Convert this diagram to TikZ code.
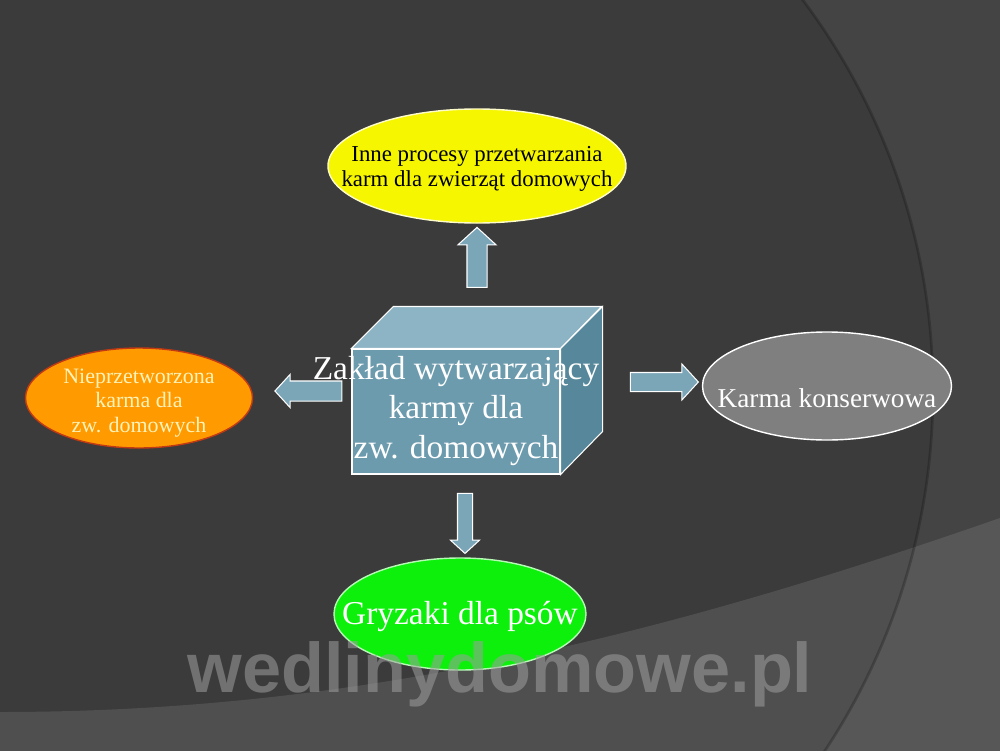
\documentclass[tikz,border=0pt]{standalone}
\usepackage{fontspec}
\setmainfont{Liberation Serif}
\newfontfamily\sitefont{Liberation Sans}
\usetikzlibrary{shapes.geometric}
\usetikzlibrary{shapes.arrows}

\definecolor{slidebg}{HTML}{3B3B3B}
\definecolor{slideband}{HTML}{4F4F4F}
\definecolor{procyellow}{HTML}{F6F600}
\definecolor{raworange}{HTML}{FF9A00}
\definecolor{rawedge}{HTML}{C23A14}
\definecolor{rawtext}{HTML}{FFF3B8}
\definecolor{cangray}{HTML}{7F7F7F}
\definecolor{chewgreen}{HTML}{0CF00C}
\definecolor{boxfront}{HTML}{6C9BAE}
\definecolor{boxtop}{HTML}{8DB4C4}
\definecolor{boxside}{HTML}{56879A}
\definecolor{flowblue}{HTML}{7BA6B8}

\begin{document}
\begin{tikzpicture}[x=0.2mm, y=-0.2mm,
    blob/.style={ellipse, inner sep=0pt, line width=0.8pt},
    blobtext/.style={align=center, inner sep=0pt},
    other/.style={blob, draw=white!80!yellow, fill=procyellow,
      minimum width=59.6mm, minimum height=22.8mm},
    raw/.style={blob, draw=rawedge, fill=raworange,
      minimum width=45.4mm, minimum height=20mm},
    canned/.style={blob, draw=white, fill=cangray,
      minimum width=49.8mm, minimum height=21.6mm},
    chew/.style={blob, draw=white!70!chewgreen, fill=chewgreen,
      minimum width=50.4mm, minimum height=22.4mm},
    face/.style={draw=white, line width=0.6pt},
    flow/.style={single arrow, draw=white, fill=flowblue, line width=0.6pt,
      single arrow tip angle=95}
  ]
  \useasboundingbox (0,0) rectangle (1000,750);
  \clip (0,0) rectangle (1000,750);

  % slide background
  \fill[slidebg] (-10,-10) rectangle (1010,760);
  \fill[slideband] (-10,712) -- (0,712) .. controls (350,712) and (650,640)
    .. (1000,518) -- (1010,515) -- (1010,760) -- (-10,760) -- cycle;
  \fill[white, opacity=0.05, even odd rule] (-10,-10) rectangle (1010,760)
    (281,391) circle (130.4mm);
  \draw[black, opacity=0.22, line width=1.5pt] (281,391) circle (130.4mm);

  % the plant
  \node[face, fill=boxfront, minimum width=41.6mm, minimum height=25mm,
    inner sep=0pt] (front) at (456,411.5) {};
  \fill[boxtop, face] (front.north west) -- ++(42,-42) -- ++(208,0)
    -- (front.north east) -- cycle;
  \fill[boxside, face] (front.north east) -- ++(42,-42) -- ++(0,125)
    -- (front.south east) -- cycle;
  \node[blobtext, text=white, font=\fontsize{19}{22.7}\selectfont]
    (plant) at (456,411) {Zakład wytwarzający\\karmy dla\\zw. domowych};

  % products
  \node[other] (process) at (477,166) {};
  \node[blobtext, text=black, font=\fontsize{13}{14.3}\selectfont]
    at ([yshift=-0.6mm]process.center)
    {Inne procesy przetwarzania\\karm dla zwierząt domowych};
  \node[raw] (unproc) at (139,398) {};
  \node[blobtext, text=rawtext, font=\fontsize{12.5}{13.9}\selectfont]
    at ([yshift=-1mm]unproc.center)
    {Nieprzetworzona\\karma dla\\zw. domowych};
  \node[canned] (tin) at (827,386) {};
  \node[blobtext, text=white, font=\fontsize{15.5}{17}\selectfont]
    at ([yshift=-2.4mm]tin.center) {Karma konserwowa};
  \node[chew] (chews) at (460,614) {};
  \node[blobtext, text=white, font=\fontsize{19}{22}\selectfont]
    at ([yshift=-0.4mm]chews.center) {Gryzaki dla psów};

  % flows out of the plant
  \node[flow, shape border rotate=90, minimum height=12mm, inner sep=1.9mm,
    single arrow head extend=1.8mm] (toprocess) at (477,262) {};
  \node[flow, shape border rotate=180, minimum height=13.4mm, inner sep=1.9mm,
    single arrow head extend=1.3mm] (tounproc) at (313,391) {};
  \node[flow, minimum height=13.6mm, inner sep=1.8mm,
    single arrow head extend=1.7mm] (totin) at (660,382) {};
  \node[flow, shape border rotate=270, minimum height=12mm, inner sep=1.4mm,
    single arrow head extend=1.4mm] (tochews) at (465,520) {};

  % watermark
  \node[anchor=base, text=white!62!black, text opacity=0.55,
    font=\sitefont\bfseries\fontsize{40}{40}\selectfont]
    (site) at (500,692) {wedlinydomowe.pl};
\end{tikzpicture}
\end{document}
